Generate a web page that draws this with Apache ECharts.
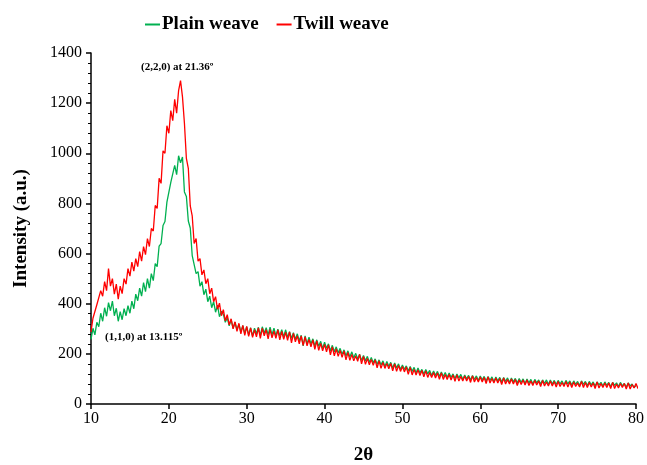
<!DOCTYPE html>
<html>
<head>
<meta charset="utf-8">
<script src="https://cdn.jsdelivr.net/npm/echarts@6/dist/echarts.min.js"></script>
<style>
html,body{margin:0;padding:0;background:#fff;}
#chart{width:647px;height:465px;}
</style>
</head>
<body>
<div id="chart"></div>
<script>
// 2theta sampling: 10 to 80, 4 readings per degree
var startAngle = 10;
var stepAngle = 0.25;

// Plain weave (green), one row per degree
var plainWeave = [
	258, 302, 276, 326,
	308, 362, 330, 384,
	350, 404, 372, 410,
	352, 382, 330, 368,
	336, 380, 352, 392,
	362, 410, 380, 438,
	412, 462, 430, 484,
	448, 500, 462, 520,
	492, 560, 548, 630,
	640, 712, 728, 805,
	812, 884, 878, 952,
	915, 990, 962, 985,
	846, 828, 730, 702,
	592, 590, 520, 528,
	470, 488, 436, 458,
	408, 430, 384, 408,
	366, 394, 348, 370,
	358, 326, 344, 312,
	336, 302, 326, 296,
	318, 288, 312, 282,
	308, 276, 304, 272,
	302, 280, 306, 274,
	308, 282, 304, 276,
	306, 276, 302, 272,
	298, 272, 296, 268,
	296, 266, 288, 262,
	284, 258, 280, 252,
	274, 232, 272, 240,
	266, 240, 260, 232,
	256, 230, 250, 222,
	246, 222, 240, 212,
	234, 208, 228, 204,
	222, 198, 216, 192,
	212, 188, 208, 184,
	202, 180, 198, 174,
	194, 172, 190, 166,
	186, 164, 180, 158,
	176, 156, 172, 150,
	170, 150, 166, 144,
	164, 144, 160, 138,
	156, 138, 152, 132,
	150, 130, 146, 124,
	144, 124, 138, 120,
	138, 120, 134, 114,
	132, 114, 130, 110,
	128, 110, 126, 106,
	124, 106, 120, 102,
	120, 104, 118, 98,
	116, 100, 114, 96,
	114, 98, 112, 94,
	112, 96, 110, 92,
	110, 94, 108, 90,
	108, 92, 106, 88,
	106, 90, 104, 86,
	104, 88, 102, 84,
	102, 86, 100, 82,
	100, 84, 98, 80,
	98, 84, 96, 80,
	96, 82, 96, 78,
	96, 80, 94, 78,
	94, 80, 92, 76,
	94, 80, 92, 76,
	92, 78, 90, 74,
	92, 78, 90, 74,
	90, 76, 88, 72,
	88, 76, 86, 72,
	88, 74, 86, 70,
	86, 74, 84, 70,
	86, 72, 82, 68,
	84, 72, 80, 66,
	74
];

// Twill weave (red), one row per degree
var twillWeave = [
	288, 342, 336, 396,
	392, 452, 430, 488,
	452, 540, 470, 500,
	438, 478, 418, 470,
	440, 500, 478, 540,
	510, 566, 530, 580,
	548, 608, 570, 628,
	596, 660, 628, 700,
	690, 792, 780, 900,
	880, 1010, 1000, 1110,
	1080, 1170, 1130, 1215,
	1160, 1250, 1290, 1225,
	1120, 980, 940, 790,
	750, 640, 660, 570,
	580, 515, 535, 480,
	500, 440, 462, 408,
	428, 378, 402, 352,
	376, 332, 356, 316,
	340, 300, 328, 290,
	322, 280, 314, 274,
	310, 270, 304, 266,
	296, 268, 304, 262,
	302, 272, 296, 260,
	298, 264, 290, 262,
	296, 256, 290, 258,
	286, 254, 288, 244,
	282, 248, 272, 240,
	272, 234, 268, 232,
	258, 228, 256, 218,
	252, 214, 242, 212,
	238, 208, 236, 196,
	228, 192, 220, 190,
	214, 186, 212, 176,
	206, 174, 198, 172,
	192, 170, 198, 160,
	190, 158, 182, 156,
	178, 154, 176, 144,
	172, 142, 166, 142,
	162, 140, 162, 132,
	160, 130, 154, 130,
	150, 128, 148, 118,
	146, 116, 138, 116,
	136, 114, 134, 108,
	132, 106, 126, 106,
	126, 104, 124, 98,
	124, 98, 118, 98,
	118, 96, 116, 90,
	116, 92, 110, 92,
	112, 92, 110, 86,
	112, 88, 106, 88,
	108, 88, 106, 82,
	108, 84, 102, 84,
	104, 84, 102, 78,
	104, 80, 98, 80,
	100, 80, 98, 74,
	96, 78, 96, 76,
	96, 74, 92, 74,
	94, 76, 92, 70,
	94, 72, 88, 72,
	92, 72, 90, 68,
	90, 70, 86, 70,
	90, 68, 88, 66,
	88, 70, 84, 68,
	90, 66, 86, 66,
	86, 68, 84, 62,
	88, 64, 82, 66,
	84, 66, 84, 62,
	86, 62, 80, 64,
	82, 66, 82, 60,
	84, 60, 78, 64,
	82, 62, 80, 60,
	70
];

var seriesNames = ['Plain weave', 'Twill weave'];
var seriesColors = ['#00b050', '#ff0000'];
var peakLabels = ['(2,2,0) at 21.36º', '(1,1,0) at 13.115º'];

function toPairs(values){
	var d = [];
	for (var i = 0; i < values.length; i++) {
		d.push([startAngle + i * stepAngle, values[i]]);
	}
	return d;
}

var serif = '"Liberation Serif", "Times New Roman", serif';

var chart = echarts.init(document.getElementById('chart'));
var option = {
	animation: false,
	legend: {
		top: 10,
		left: 140,
		itemGap: 18,
		itemWidth: 15,
		itemHeight: 2,
		icon: 'rect',
		textStyle: {fontFamily: serif, fontWeight: 'bold', fontSize: 19, color: '#000', padding: [0, 0, 0, -3]},
		data: seriesNames
	},
	grid: {left: 91, right: 11, top: 53, bottom: 61, outerBoundsMode: 'none'},
	xAxis: {
		type: 'value',
		min: 10,
		max: 80,
		interval: 10,
		name: '2θ',
		nameLocation: 'middle',
		nameGap: 42,
		nameTextStyle: {fontFamily: serif, fontWeight: 'bold', fontSize: 19, color: '#000'},
		axisLine: {lineStyle: {color: '#000', width: 1.5}},
		axisTick: {show: true, inside: false, length: 5, lineStyle: {color: '#000', width: 1.5}},
		axisLabel: {fontFamily: serif, fontSize: 16, color: '#000', margin: 7},
		splitLine: {show: false}
	},
	yAxis: {
		type: 'value',
		min: 0,
		max: 1400,
		interval: 200,
		name: 'Intensity (a.u.)',
		nameLocation: 'middle',
		nameGap: 60,
		nameTextStyle: {fontFamily: serif, fontWeight: 'bold', fontSize: 19, color: '#000'},
		axisLine: {show: true, lineStyle: {color: '#000', width: 1.5}},
		axisTick: {show: true, inside: false, length: 5, lineStyle: {color: '#000', width: 1.5}},
		minorTick: {show: true, splitNumber: 5, length: 3, lineStyle: {color: '#000', width: 1}},
		axisLabel: {
			fontFamily: serif, fontSize: 16, color: '#000', margin: 9,
			formatter: function(v){ return String(v); }
		},
		splitLine: {show: false}
	},
	graphic: [
		{type: 'text', left: 141, top: 62, style: {text: peakLabels[0], font: 'bold 11px ' + serif, fill: '#000'}},
		{type: 'text', left: 105, top: 332, style: {text: peakLabels[1], font: 'bold 11px ' + serif, fill: '#000'}}
	],
	series: [
		{
			name: seriesNames[0],
			type: 'line',
			showSymbol: false,
			color: seriesColors[0],
			lineStyle: {width: 1.3},
			data: toPairs(plainWeave)
		},
		{
			name: seriesNames[1],
			type: 'line',
			showSymbol: false,
			color: seriesColors[1],
			lineStyle: {width: 1.3},
			data: toPairs(twillWeave)
		}
	]
};
chart.setOption(option);
</script>
</body>
</html>
